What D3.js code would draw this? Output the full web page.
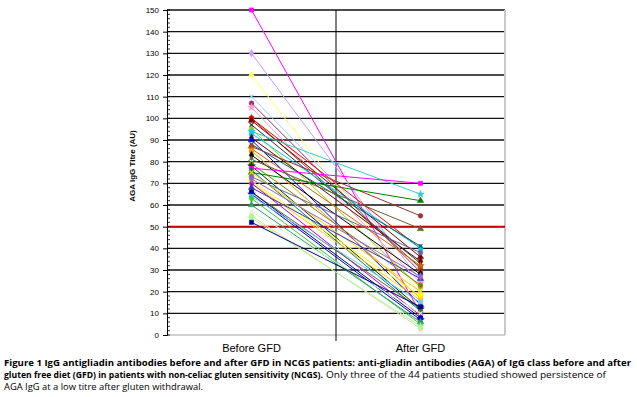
<!DOCTYPE html>
<html>
<head>
<meta charset="utf-8">
<script src="https://cdn.jsdelivr.net/npm/d3@7"></script>
<style>
  body { margin: 0; background: #fff; }
  text { font-family: Arial, "Liberation Sans", sans-serif; }
  text.caption { font-family: "Open Sans", "Noto Sans", sans-serif; }
</style>
</head>
<body>
<svg id="agaChart"></svg>
<script>
const categories = ["Before GFD", "After GFD"];
const yTicks = [0, 10, 20, 30, 40, 50, 60, 70, 80, 90, 100, 110, 120, 130, 140, 150];
const cutoffValue = 50;

// one entry per patient (44)
const beforeGfd = [150, 130, 120, 110, 107, 105, 100, 100, 99, 97,
  95, 94, 93, 91, 90, 88, 87, 86, 85, 83,
  81, 80, 79, 78, 77, 76, 75, 75, 73, 71,
  70, 70, 68, 66, 66, 65, 64, 63, 60, 57,
  55, 54, 52, 72];
const afterGfd = [10, 25, 19, 30, 29, 24, 31, 40, 36, 33,
  22, 65, 40, 34, 14, 41, 55, 32, 17, 28,
  49, 2, 23, 12, 70, 11, 62, 20, 38, 18,
  16, 9, 26, 12, 8, 7, 15, 5, 6, 10,
  3, 4, 13, 27];
const patientColors = ["#FF00FF", "#CC99FF", "#FFFF66", "#99CCFF", "#993366", "#FF99CC", "#993300", "#FF0000", "#800000", "#333333",
  "#99CC00", "#33CCCC", "#00CCFF", "#660000", "#0000FF", "#006666", "#993333", "#CC6600", "#FF9900", "#000000",
  "#666633", "#CCFFFF", "#808000", "#003300", "#FF00FF", "#008080", "#008000", "#FFCC00", "#666699", "#FFFF00",
  "#FFCC00", "#CC00CC", "#3333CC", "#666633", "#000080", "#0000CC", "#66CCFF", "#33CC33", "#339966", "#CCFFCC",
  "#FFCC99", "#99FF99", "#000080", "#9966CC"];

const captionBold1 = "Figure 1 IgG antigliadin antibodies before and after GFD in NCGS patients: anti-gliadin antibodies (AGA) of IgG class before and after";
const captionBold2 = "gluten free diet (GFD) in patients with non-celiac gluten sensitivity (NCGS).";
const captionRest2 = "Only three of the 44 patients studied showed persistence of";
const captionRest3 = "AGA IgG at a low titre after gluten withdrawal.";

const patients = beforeGfd.map((b, i) => ({ before: b, after: afterGfd[i], color: patientColors[i] }));

function getChartConfig() {
  const dimensions = {
    width: 637,
    height: 397,
    margin: { top: 10, bottom: 62, left: 167, right: 132 }
  };
  const chart = d3.select("#agaChart")
    .attr("width", dimensions.width)
    .attr("height", dimensions.height);
  return { dimensions, container: chart };
}

function getScales(config) {
  const { dimensions } = config;
  const xScale = d3.scaleBand()
    .domain(categories)
    .range([dimensions.margin.left, dimensions.width - dimensions.margin.right])
    .padding(0);
  const yScale = d3.scaleLinear()
    .domain([0, 150])
    .range([dimensions.height - dimensions.margin.bottom, dimensions.margin.top]);
  return { xScale, yScale };
}

function drawFrame(config, scales) {
  const { container } = config;
  const { xScale, yScale } = scales;
  const [x0, x1] = xScale.range();

  // horizontal gridlines
  container.append("g")
    .selectAll("line")
    .data(yTicks.filter(d => d > 0))
    .join("line")
    .attr("x1", x0).attr("x2", x1)
    .attr("y1", d => yScale(d)).attr("y2", d => yScale(d))
    .attr("stroke", "#111").attr("stroke-width", 1.3);

  // bottom and right borders (light grey)
  container.append("line")
    .attr("x1", x0).attr("x2", x1)
    .attr("y1", yScale(0)).attr("y2", yScale(0))
    .attr("stroke", "#d0d0d0").attr("stroke-width", 2);
  container.append("line")
    .attr("x1", x1).attr("x2", x1)
    .attr("y1", yScale(150)).attr("y2", yScale(0))
    .attr("stroke", "#c8c8c8").attr("stroke-width", 2);

  // divider between categories
  const mid = xScale(categories[1]);
  container.append("line")
    .attr("x1", mid).attr("x2", mid)
    .attr("y1", yScale(150)).attr("y2", yScale(0) + 6)
    .attr("stroke", "#000").attr("stroke-width", 1);

  // cut-off line
  container.append("line")
    .attr("x1", x0).attr("x2", x1)
    .attr("y1", yScale(cutoffValue)).attr("y2", yScale(cutoffValue))
    .attr("stroke", "#C00000").attr("stroke-width", 2);
}

function drawAxes(config, scales) {
  const { container, dimensions } = config;
  const { xScale, yScale } = scales;

  const axisY = d3.axisLeft(yScale)
    .tickValues(yTicks)
    .tickSize(4)
    .tickPadding(4);
  const gy = container.append("g")
    .attr("transform", `translate(${dimensions.margin.left},0)`)
    .call(axisY);
  gy.select(".domain").attr("stroke", "#000");
  gy.selectAll("text").attr("font-size", 8).attr("fill", "#000");

  // minor ticks inside the axis
  container.append("g")
    .selectAll("line")
    .data(d3.range(0, 151, 2))
    .join("line")
    .attr("x1", dimensions.margin.left).attr("x2", dimensions.margin.left + 3)
    .attr("y1", d => yScale(d)).attr("y2", d => yScale(d))
    .attr("stroke", "#000").attr("stroke-width", 0.8);

  container.append("g")
    .selectAll("text")
    .data(categories)
    .join("text")
    .attr("x", d => xScale(d) + xScale.bandwidth() / 2)
    .attr("y", yScale(0) + 17)
    .attr("text-anchor", "middle")
    .attr("font-size", 11)
    .text(d => d);

  container.append("text")
    .attr("text-anchor", "middle")
    .attr("transform", `translate(135,${yScale(78)})rotate(-90)`)
    .attr("font-size", 8)
    .attr("font-weight", "bold")
    .text("AGA IgG Titre (AU)");
}

function drawPatients(config, scales) {
  const { container } = config;
  const { xScale, yScale } = scales;
  const xBefore = xScale(categories[0]) + xScale.bandwidth() / 2;
  const xAfter = xScale(categories[1]) + xScale.bandwidth() / 2;
  const markers = [d3.symbolSquare, d3.symbolDiamond, d3.symbolTriangle, d3.symbolTimes, d3.symbolCircle, d3.symbolStar];

  const groups = container.append("g")
    .selectAll("g")
    .data(patients)
    .join("g");

  groups.append("line")
    .attr("x1", xBefore).attr("y1", d => yScale(d.before))
    .attr("x2", xAfter).attr("y2", d => yScale(d.after))
    .attr("stroke", d => d.color)
    .attr("stroke-width", 1);

  groups.each(function (d, i) {
    const type = markers[i % markers.length];
    const isStroke = type === d3.symbolTimes;
    const sym = d3.symbol().type(type).size(isStroke ? 12 : 18);
    [[xBefore, d.before], [xAfter, d.after]].forEach(([x, v]) => {
      d3.select(this).append("path")
        .attr("d", sym())
        .attr("transform", `translate(${x},${yScale(v)})`)
        .attr("fill", isStroke ? "none" : d.color)
        .attr("stroke", d.color)
        .attr("stroke-width", isStroke ? 1.2 : 0.5);
    });
  });
}

function drawCaption(config) {
  const { container } = config;
  const fs = 8.6;
  const lines = [
    { x: 4, y: 366, len: 627, bold: true, text: captionBold1 },
    { x: 4, y: 378, len: 319, bold: true, text: captionBold2 },
    { x: 326, y: 378, len: 280, bold: false, text: captionRest2 },
    { x: 4, y: 390, len: 199, bold: false, text: captionRest3 }
  ];
  container.append("g")
    .selectAll("text")
    .data(lines)
    .join("text")
    .attr("class", "caption")
    .attr("x", d => d.x).attr("y", d => d.y)
    .attr("font-size", fs)
    .attr("font-weight", d => (d.bold ? "bold" : "normal"))
    .attr("textLength", d => d.len).attr("lengthAdjust", "spacingAndGlyphs")
    .text(d => d.text);
}

function renderChart() {
  const config = getChartConfig();
  const scales = getScales(config);
  drawFrame(config, scales);
  drawPatients(config, scales);
  drawAxes(config, scales);
  drawCaption(config);
}

renderChart();
</script>
</body>
</html>
